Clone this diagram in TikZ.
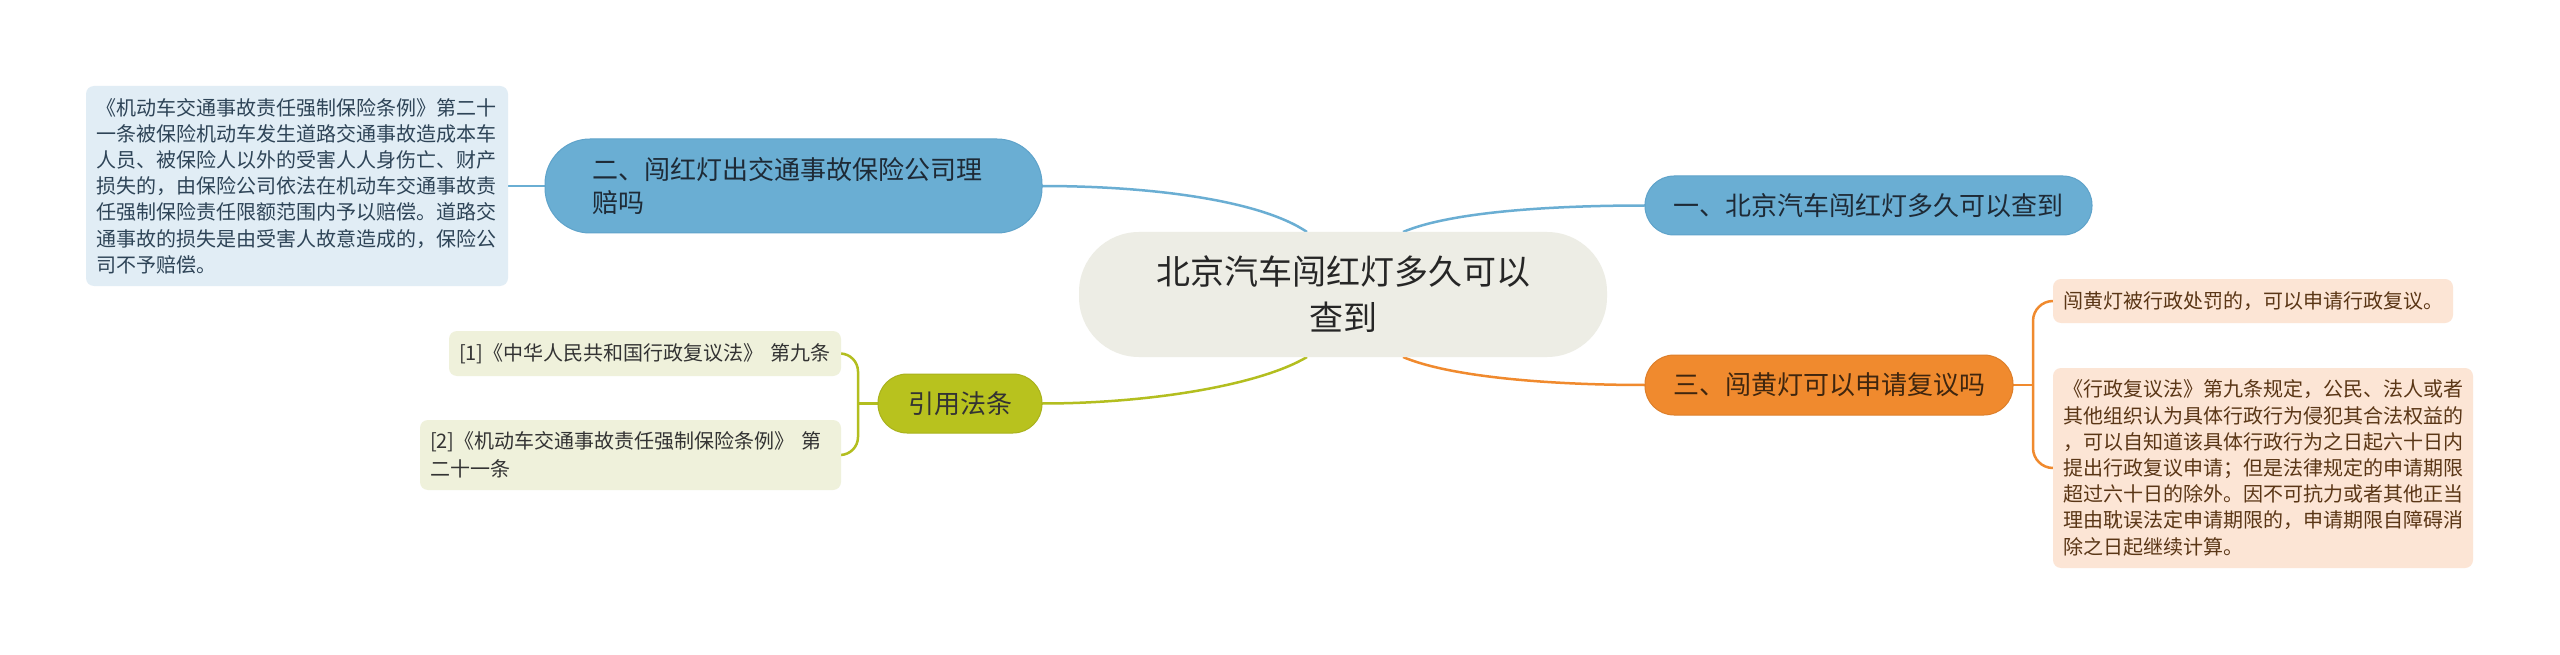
\documentclass[tikz,border=0pt]{standalone}
\usepackage{fontspec}
\setmainfont{Noto Sans CJK SC}
\usetikzlibrary{calc}
\pgfdeclarelayer{background}
\pgfsetlayers{background,main}
\definecolor{blueN}{HTML}{6AAED3}
\definecolor{blueB}{HTML}{5FA3CA}
\definecolor{blueL}{HTML}{E1EDF5}
\definecolor{blueT}{HTML}{2E4457}
\definecolor{centerF}{HTML}{EDEDE5}
\definecolor{orangeN}{HTML}{F08A2E}
\definecolor{orangeL}{HTML}{FCE5D5}
\definecolor{orangeT}{HTML}{5A3616}
\definecolor{greenN}{HTML}{B8C21E}
\definecolor{greenL}{HTML}{EFF1DB}
\definecolor{greenC}{HTML}{B3BE1F}
\definecolor{darkT}{HTML}{1E2A36}
\begin{document}
\begin{tikzpicture}[x=1pt,y=-1pt,
  base/.style={inner xsep=0pt,inner ysep=0pt,outer sep=0pt},
  bluenode/.style={base,fill=blueN,draw=blueB,line width=1pt,text=darkT,font=\fontsize{26}{33}\selectfont},
  leafbox/.style={base,rounded corners=8pt,font=\fontsize{20}{26.2}\selectfont,align=left},
  conn/.style={line width=2.5pt}]
\useasboundingbox (0,0) rectangle (2560,655);

% central topic
\node[base,fill=centerF,rounded corners=60pt,minimum width=528pt,minimum height=125pt,
  text width=448pt,align=center,text=black!85,font=\fontsize{34}{46}\selectfont]
  (C) at (1343,294.5) {北京汽车闯红灯多久可以\\查到};

% main branches
\node[bluenode,rounded corners=29pt,minimum width=447pt,minimum height=59pt]
  (n1) at (1868.5,205.5) {一、北京汽车闯红灯多久可以查到};
\node[bluenode,rounded corners=45pt,minimum width=497pt,minimum height=94pt,
  text width=403pt,inner xsep=47pt,align=left]
  (n2) at (793.5,186) {二、闯红灯出交通事故保险公司理\\赔吗};
\node[base,fill=orangeN,draw=orangeN!92!black,line width=1pt,rounded corners=29pt,minimum width=368pt,minimum height=60pt,
  text=orangeT!70!black,font=\fontsize{26}{33}\selectfont]
  (n3) at (1829,385) {三、闯黄灯可以申请复议吗};
\node[base,fill=greenN,draw=greenN!92!black,line width=1pt,rounded corners=29pt,minimum width=164pt,minimum height=59pt,
  text=black!80,font=\fontsize{26}{33}\selectfont]
  (n4) at (960,403.5) {引用法条};

% leaves
\node[leafbox,fill=blueL,text=blueT,minimum width=422pt,minimum height=200pt,
  text width=402pt,inner xsep=10pt]
  (L) at (297,186) {《机动车交通事故责任强制保险条例》第二十\\一条被保险机动车发生道路交通事故造成本车\\人员、被保险人以外的受害人人身伤亡、财产\\损失的，由保险公司依法在机动车交通事故责\\任强制保险责任限额范围内予以赔偿。道路交\\通事故的损失是由受害人故意造成的，保险公\\司不予赔偿。};
\node[leafbox,fill=orangeL,text=orangeT,minimum width=400pt,minimum height=44pt,
  text width=380pt,inner xsep=10pt]
  (R1) at (2253,301) {闯黄灯被行政处罚的，可以申请行政复议。};
\node[leafbox,fill=orangeL,text=orangeT,minimum width=420pt,minimum height=200pt,
  text width=400pt,inner xsep=10pt]
  (R2) at (2263,468) {《行政复议法》第九条规定，公民、法人或者\\其他组织认为具体行政行为侵犯其合法权益的\\，可以自知道该具体行政行为之日起六十日内\\提出行政复议申请；但是法律规定的申请期限\\超过六十日的除外。因不可抗力或者其他正当\\理由耽误法定申请期限的，申请期限自障碍消\\除之日起继续计算。};
\node[leafbox,fill=greenL,text=black!80,minimum width=392pt,minimum height=45pt,
  text width=372pt,inner xsep=10pt]
  (G1) at (645,353.5) {[1]《中华人民共和国行政复议法》 第九条};
\node[leafbox,fill=greenL,text=black!80,minimum width=421pt,minimum height=70pt,
  text width=401pt,inner xsep=10pt,font=\fontsize{20}{28}\selectfont]
  (G2) at (630.5,455) {[2]《机动车交通事故责任强制保险条例》 第\\二十一条};

\coordinate (bo) at (2033,385);
\coordinate (bg) at (858,403.5);

\begin{pgfonlayer}{background}
\fill[white] (0,0) rectangle (2560,655);
\draw[conn,blueN] ([xshift=60pt]C.north) .. controls +(47,-20) and +(-95,0) .. (n1.west);
\draw[conn,blueN] ([xshift=-36pt]C.north) .. controls +(-47,-32) and +(108,0) .. (n2.east);
\draw[conn,orangeN] ([xshift=60pt]C.south) .. controls +(47,20) and +(-95,0) .. (n3.west);
\draw[conn,greenC] ([xshift=-36pt]C.south) .. controls +(-47,28) and +(108,0) .. (n4.east);
\draw[conn,blueN] (L.east) -- (n2.west);
\draw[conn,orangeN] (n3.east) -- (bo);
\draw[conn,orangeN,rounded corners=20pt] (R1.west) -| (bo) |- (R2.west);
\draw[conn,greenC] (n4.west) -- (bg);
\draw[conn,greenC,rounded corners=18pt] (G1.east) -| (bg) |- (G2.east);
\end{pgfonlayer}
\end{tikzpicture}
\end{document}
